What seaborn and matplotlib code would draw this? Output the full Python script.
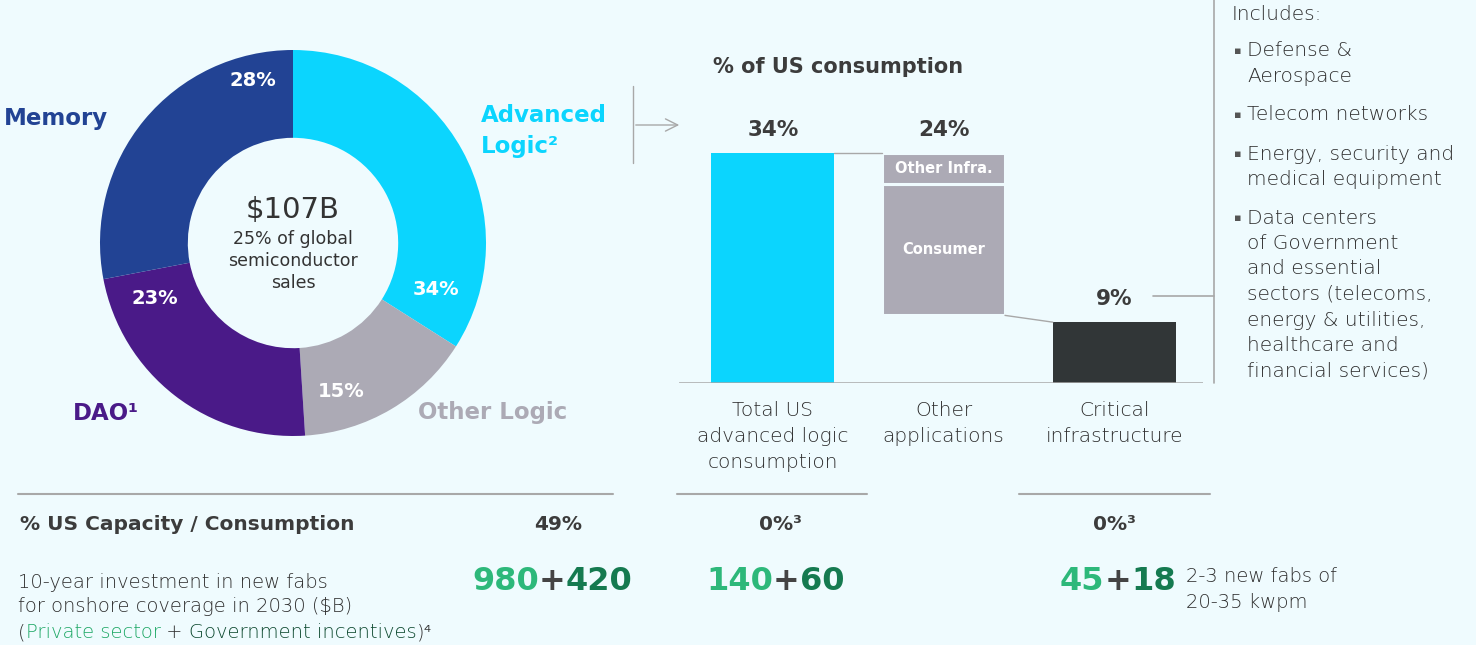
import numpy as np
import pandas as pd
import matplotlib.pyplot as plt
import seaborn as sns

# ---- data -------------------------------------------------------------
segments = ["Advanced Logic", "Other Logic", "DAO", "Memory"]
segment_share = [34, 15, 23, 28]
segment_names = ["Advanced\nLogic²", "Other Logic", "DAO¹", "Memory"]
total_sales = "$107B"
total_note = "25% of global\nsemiconductor\nsales"

bar_categories = ["Total US\nadvanced logic\nconsumption", "Other\napplications", "Critical\ninfrastructure"]
bar_pct = [34, 24, 9]
other_parts = ["Other Infra.", "Consumer"]
other_part_pct = [4.5, 19.5]

capacity_share = ["49%", "0%³", "0%³"]
private_invest = [980, 140, 45]
govt_invest = [420, 60, 18]

critical_includes = [
    ["Defense &", "Aerospace"],
    ["Telecom networks"],
    ["Energy, security and", "medical equipment"],
    ["Data centers", "of Government", "and essential", "sectors (telecoms,",
     "energy & utilities,", "healthcare and", "financial services)"],
]

# ---- style ------------------------------------------------------------
BG = "#EFFBFE"
SEG_COLORS = ["#0BD5FE", "#ACAAB5", "#4A1A88", "#224394"]
DARK = "#3C3C3C"
LIGHT = "#2E2E2E"
RULE = "#A8A8A8"
GREEN_L = "#2DB87A"
GREEN_D = "#157A50"
CRIT = "#313637"

sns.set_theme(style="white")
plt.rcParams["font.family"] = ["DejaVu Sans"]

HEAVY = dict(fontweight="bold")
THIN = dict(fontweight="light")

W, H = 1476, 645
fig = plt.figure(figsize=(W / 100, H / 100), dpi=100, facecolor=BG)


def px_axes(x0, y0, x1, y1, **kw):
    """Axes placed by pixel box (y measured from the top)."""
    return fig.add_axes([x0 / W, 1 - y1 / H, (x1 - x0) / W, (y1 - y0) / H], **kw)


# ---- donut ------------------------------------------------------------
cx, cy, r_out = 293, 243, 193
ax_d = px_axes(cx - r_out, cy - r_out, cx + r_out, cy + r_out)
ax_d.pie(segment_share, colors=SEG_COLORS, startangle=90, counterclock=False,
         radius=1, wedgeprops=dict(width=0.455, linewidth=0))
ax_d.set_xlim(-1, 1)
ax_d.set_ylim(-1, 1)
ax_d.set_aspect("auto")
ax_d.axis("off")

pct_angle = [-18, -72, 202, 104]
pct_radius = [0.78, 0.81, 0.77, 0.87]
for share, ang, rad in zip(segment_share, pct_angle, pct_radius):
    a = np.deg2rad(ang)
    ax_d.text(rad * np.cos(a), rad * np.sin(a), f"{share}%", color="white",
              fontsize=14, ha="center", va="center", **HEAVY)

# ---- waterfall bars ---------------------------------------------------
ax_b = px_axes(679, 100, 1203, 383)
bar_w = 0.72
grounded = [bar_pct[0], 0, bar_pct[2]]
df = pd.DataFrame({"category": bar_categories, "pct": grounded})
sns.barplot(data=df, x="category", y="pct", hue="category",
            palette=[SEG_COLORS[0], SEG_COLORS[1], CRIT], width=bar_w,
            legend=False, saturation=1, ax=ax_b, linewidth=0)

# floating "Other applications" bar, split into its two parts
float_bottom = bar_pct[0] - bar_pct[1]
consumer_bottom = float_bottom
infra_bottom = float_bottom + other_part_pct[1]
ax_b.bar(1, other_part_pct[1], bottom=consumer_bottom, width=bar_w,
         color=SEG_COLORS[1], edgecolor=BG, linewidth=2.2)
ax_b.bar(1, other_part_pct[0], bottom=infra_bottom, width=bar_w,
         color=SEG_COLORS[1], edgecolor=BG, linewidth=2.2)
ax_b.text(1, infra_bottom + other_part_pct[0] / 2, other_parts[0], color="white",
          fontsize=10.5, ha="center", va="center", **HEAVY)
ax_b.text(1, consumer_bottom + other_part_pct[1] * 0.5, other_parts[1], color="white",
          fontsize=10.5, ha="center", va="center", **HEAVY)

# connectors between steps
ax_b.plot([bar_w / 2, 1 - bar_w / 2], [bar_pct[0], bar_pct[0]], color=RULE, lw=1)
ax_b.plot([1 + bar_w / 2, 2 - bar_w / 2], [float_bottom, bar_pct[2]], color=RULE, lw=1)

tops = [bar_pct[0], bar_pct[0], bar_pct[2]]
for i, (v, t) in enumerate(zip(bar_pct, tops)):
    ax_b.annotate(f"{v}%", xy=(i, t), xytext=(0, 12.5), textcoords="offset points",
                  ha="center", va="baseline", fontsize=15.5, color=DARK, **HEAVY)

ax_b.axhline(0, color=RULE, lw=1.8)
ax_b.set_xlim(-0.55, 2.52)
ax_b.set_ylim(0, 283 / 6.76)
ax_b.set_xlabel("")
ax_b.set_ylabel("")
ax_b.set_yticks([])
ax_b.tick_params(axis="x", length=0, pad=13, labelsize=14.5, labelcolor=LIGHT)
for lab in ax_b.get_xticklabels():
    lab.set_fontweight("light")
    lab.set_linespacing(1.45)
for s in ax_b.spines.values():
    s.set_visible(False)
ax_b.patch.set_alpha(0)

# ---- overlay for annotations -----------------------------------------
ax_t = fig.add_axes([0, 0, 1, 1], zorder=5)
ax_t.set_xlim(0, W)
ax_t.set_ylim(H, 0)
ax_t.axis("off")
ax_t.patch.set_alpha(0)

# donut labels
ax_t.text(56, 118, segment_names[3], color=SEG_COLORS[3], fontsize=16.5,
          ha="center", va="center", **HEAVY)
ax_t.text(481, 131, segment_names[0], color=SEG_COLORS[0], fontsize=16.5,
          ha="left", va="center", linespacing=1.4, **HEAVY)
ax_t.text(106, 413, segment_names[2], color=SEG_COLORS[2], fontsize=16.5,
          ha="center", va="center", **HEAVY)
ax_t.text(493, 413, segment_names[1], color=SEG_COLORS[1], fontsize=16.5,
          ha="center", va="center", **HEAVY)
ax_t.text(cx, 210, total_sales, color="#333333", fontsize=21, ha="center", va="center")
ax_t.text(cx, 261, total_note, color="#333333", fontsize=12.5,
          ha="center", va="center", linespacing=1.27)

# bar chart title and bracket
ax_t.text(838, 67, "% of US consumption", color=DARK, fontsize=15,
          ha="center", va="center", **HEAVY)
ax_t.plot([633, 633], [86, 163], color=RULE, lw=1)
ax_t.annotate("", xy=(682, 125), xytext=(633, 125),
              arrowprops=dict(arrowstyle="->", color=RULE, lw=1, mutation_scale=22))

# critical infrastructure bracket + list
ax_t.plot([1214, 1214], [0, 383], color=RULE, lw=1.2)
ax_t.plot([1153, 1214], [296, 296], color=RULE, lw=1.2)
ax_t.text(1232, 14, "Includes:", color=LIGHT, fontsize=14.5,
          ha="left", va="center", **THIN)
item_start = [51, 115, 154, 218]
for y0, lines in zip(item_start, critical_includes):
    ax_t.text(1238, y0, "▪", color="#555555", fontsize=8, ha="center", va="center")
    for k, line in enumerate(lines):
        ax_t.text(1247, y0 + k * 25.5, line, color=LIGHT, fontsize=14.5,
                  ha="left", va="center", **THIN)

# bottom table
for x0, x1 in [(18, 613), (677, 867), (1019, 1210)]:
    ax_t.plot([x0, x1], [494, 494], color=RULE, lw=1.5)

ax_t.text(20, 525, "% US Capacity / Consumption", color=DARK, fontsize=14.5,
          ha="left", va="center", **HEAVY)
for xc, s in zip([558, 780, 1115], capacity_share):
    ax_t.text(xc, 525, s, color=DARK, fontsize=14.5, ha="center", va="center", **HEAVY)

desc_kw = dict(fontsize=14, ha="left", va="center", **THIN)
ax_t.text(18, 582, "10-year investment in new fabs", color=LIGHT, **desc_kw)
ax_t.text(18, 607, "for onshore coverage in 2030 ($B)", color=LIGHT, **desc_kw)


def chain(x, y, parts, **kw):
    t = ax_t.text(x, y, parts[0][0], color=parts[0][1], ha="left", va="center", **kw)
    for s, c in parts[1:]:
        t = ax_t.annotate(s, xy=(1, 0.5), xycoords=t, color=c, ha="left",
                          va="center", **kw)
    return t


chain(18, 633, [("(", LIGHT), ("Private sector", "#1FA866"), (" + ", LIGHT),
                ("Government incentives", "#0E4A30"), (")⁴", LIGHT)],
      fontsize=14, **THIN)

for x0, p, g in zip([472, 706, 1060], private_invest, govt_invest):
    chain(x0, 581, [(f"{p}", GREEN_L), ("+", "#444444"), (f"{g}", GREEN_D)],
          fontsize=23, **HEAVY)

ax_t.text(1186, 577, "2-3 new fabs of", color=LIGHT, **desc_kw)
ax_t.text(1186, 602, "20-35 kwpm", color=LIGHT, **desc_kw)

fig.savefig("out.png", dpi=100, facecolor=BG)
